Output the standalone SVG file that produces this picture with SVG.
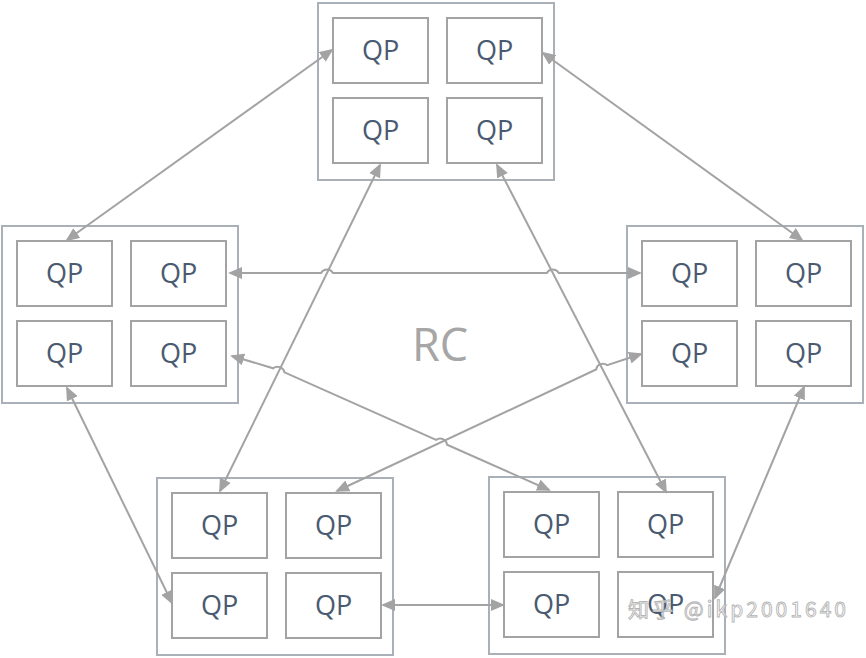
<svg xmlns="http://www.w3.org/2000/svg" width="866" height="658" viewBox="0 0 866 658">
<defs>
<marker id="ah" markerUnits="userSpaceOnUse" viewBox="0 0 14 12" refX="12" refY="6" markerWidth="14" markerHeight="12" orient="auto-start-reverse">
<path d="M0,0 L14,6 L0,12 z" fill="#a3a3a3"/>
</marker>
</defs>
<style>
.outer{fill:none;stroke:#a9b0b8;stroke-width:2}
.qp{fill:#ffffff;stroke:#a3a3a3;stroke-width:2}
.qt{font-family:"Open Sans","Liberation Sans",sans-serif;font-size:27px;fill:#4a5a70;text-anchor:middle}
.c{fill:none;stroke:#a3a3a3;stroke-width:2;marker-start:url(#ah);marker-end:url(#ah)}
.rc{font-family:"Open Sans","Liberation Sans",sans-serif;font-size:45px;fill:#a6a6a6;text-anchor:middle}
</style>
<rect width="866" height="658" fill="#ffffff"/>

<g id="node-top">
<rect class="outer" x="318" y="3" width="236" height="177"/>
<rect class="qp" x="333" y="18" width="95" height="65"/><text class="qt" x="380.5" y="60">QP</text>
<rect class="qp" x="447" y="18" width="95" height="65"/><text class="qt" x="494.5" y="60">QP</text>
<rect class="qp" x="333" y="98" width="95" height="65"/><text class="qt" x="380.5" y="140">QP</text>
<rect class="qp" x="447" y="98" width="95" height="65"/><text class="qt" x="494.5" y="140">QP</text>
</g>

<g id="node-left">
<rect class="outer" x="2" y="226" width="236" height="177"/>
<rect class="qp" x="17" y="241" width="95" height="65"/><text class="qt" x="64.5" y="283">QP</text>
<rect class="qp" x="131" y="241" width="95" height="65"/><text class="qt" x="178.5" y="283">QP</text>
<rect class="qp" x="17" y="321" width="95" height="65"/><text class="qt" x="64.5" y="363">QP</text>
<rect class="qp" x="131" y="321" width="95" height="65"/><text class="qt" x="178.5" y="363">QP</text>
</g>

<g id="node-right">
<rect class="outer" x="627" y="226" width="236" height="177"/>
<rect class="qp" x="642" y="241" width="95" height="65"/><text class="qt" x="689.5" y="283">QP</text>
<rect class="qp" x="756" y="241" width="95" height="65"/><text class="qt" x="803.5" y="283">QP</text>
<rect class="qp" x="642" y="321" width="95" height="65"/><text class="qt" x="689.5" y="363">QP</text>
<rect class="qp" x="756" y="321" width="95" height="65"/><text class="qt" x="803.5" y="363">QP</text>
</g>

<g id="node-bottom-left">
<rect class="outer" x="157" y="478" width="236" height="177"/>
<rect class="qp" x="172" y="493" width="95" height="65"/><text class="qt" x="219.5" y="535">QP</text>
<rect class="qp" x="286" y="493" width="95" height="65"/><text class="qt" x="333.5" y="535">QP</text>
<rect class="qp" x="172" y="573" width="95" height="65"/><text class="qt" x="219.5" y="615">QP</text>
<rect class="qp" x="286" y="573" width="95" height="65"/><text class="qt" x="333.5" y="615">QP</text>
</g>

<g id="node-bottom-right">
<rect class="outer" x="489" y="477" width="236" height="177"/>
<rect class="qp" x="504" y="492" width="95" height="65"/><text class="qt" x="551.5" y="534">QP</text>
<rect class="qp" x="618" y="492" width="95" height="65"/><text class="qt" x="665.5" y="534">QP</text>
<rect class="qp" x="504" y="572" width="95" height="65"/><text class="qt" x="551.5" y="614">QP</text>
<rect class="qp" x="618" y="572" width="95" height="65"/><text class="qt" x="665.5" y="614">QP</text>
</g>

<g id="connectors">
<path class="c" d="M332,50 L67,240"/>
<path class="c" d="M543,53 L802,240"/>
<path class="c" d="M230,273 H321 A7,7 0 0 1 333,273 H546.8 A7,7 0 0 1 558.8,273 H640"/>
<path class="c" d="M232,356 L273.2,368.3 A7,7 0 0 1 284.5,372.4 L436.1,439.9 A7,7 0 0 1 447.1,444.7 L549,490"/>
<path class="c" d="M337,491 L596.1,369.5 A7,7 0 0 1 607.2,365.1 L641,354"/>
<path class="c" d="M380,165 L220,491"/>
<path class="c" d="M497,165 L666,492"/>
<path class="c" d="M67,388 L172,603"/>
<path class="c" d="M804,387 L715,598"/>
<path class="c" d="M383,605 L503,605"/>
</g>

<text class="rc" x="440" y="361">RC</text>

<text x="628" y="617" font-family="'Noto Sans CJK SC','Liberation Sans',sans-serif" font-size="21" fill="#ffffff" fill-opacity="0.6" stroke="#b5b5b5" stroke-width="0.9" textLength="218" lengthAdjust="spacing">知乎 @ikp2001640</text>
</svg>
